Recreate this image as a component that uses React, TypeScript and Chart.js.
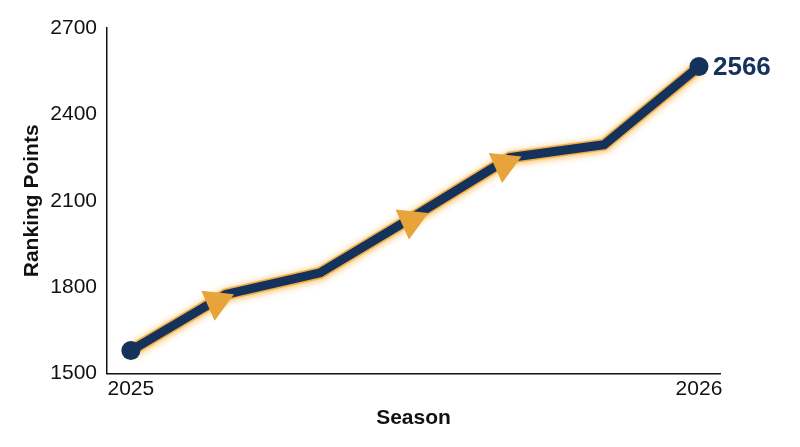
import { useEffect, useRef } from "react"
import { Chart, registerables, type ChartConfiguration, type Plugin } from "chart.js"

Chart.register(...registerables)

// season timeline (fraction of the year) and ranking points
const seasons = [2025, 2025.167, 2025.333, 2025.5, 2025.667, 2025.833, 2026]
const rankingPoints = [1580, 1775, 1850, 2048, 2250, 2295, 2566]

// arrow markers along the line
const arrowX = [2025.151, 2025.493, 2025.657]
const arrowY = [1749, 2031, 2227]

const xTicks = [2025, 2026]
const yTicks = [1500, 1800, 2100, 2400, 2700]

const NAVY = "#14325C"
const GOLD = "#E6A43A"
const FONT = "'Liberation Sans', Arial, sans-serif"

const glowPlugin: Plugin<"line"> = {
  id: "glow",
  beforeDatasetDraw(chart, args) {
    if (args.index !== 2) return
    const ctx = chart.ctx
    ctx.save()
    ctx.shadowColor = "rgba(245, 175, 60, 0.9)"
    ctx.shadowBlur = 7
    ctx.shadowOffsetY = 1
  },
  afterDatasetDraw(chart, args) {
    if (args.index !== 2) return
    chart.ctx.restore()
  },
}

const endLabelPlugin: Plugin<"line"> = {
  id: "endLabel",
  afterDatasetsDraw(chart) {
    const meta = chart.getDatasetMeta(1)
    const last = meta.data[meta.data.length - 1]
    if (!last) return
    const ctx = chart.ctx
    ctx.save()
    ctx.font = `bold 26px ${FONT}`
    ctx.fillStyle = NAVY
    ctx.textAlign = "left"
    ctx.textBaseline = "middle"
    ctx.fillText(String(rankingPoints[rankingPoints.length - 1]), last.x + 14, last.y + 1)
    ctx.restore()
  },
}

export default function App() {
  const canvasRef = useRef<HTMLCanvasElement>(null)

  useEffect(() => {
    if (!canvasRef.current) return
    const ctx = canvasRef.current.getContext("2d")
    if (!ctx) return

    const linePoints = seasons.map((x, i) => ({ x, y: rankingPoints[i] }))
    const radii = rankingPoints.map((_, i) => (i === 0 || i === rankingPoints.length - 1 ? 9.5 : 0))

    const config: ChartConfiguration<"line"> = {
      type: "line",
      data: {
        datasets: [
          {
            data: arrowX.map((x, i) => ({ x, y: arrowY[i] })),
            showLine: false,
            pointStyle: "triangle",
            pointRadius: 19,
            pointRotation: 186,
            pointBackgroundColor: GOLD,
            pointBorderWidth: 0,
          },
          {
            data: linePoints,
            borderColor: NAVY,
            borderWidth: 9,
            borderJoinStyle: "miter",
            tension: 0,
            pointRadius: radii,
            pointBackgroundColor: NAVY,
            pointBorderWidth: 0,
          },
          {
            data: linePoints,
            borderColor: "rgba(240, 172, 62, 0.95)",
            borderWidth: 12,
            borderJoinStyle: "miter",
            tension: 0,
            pointRadius: 0,
          },
        ],
      },
      options: {
        animation: false,
        responsive: true,
        maintainAspectRatio: false,
        layout: { padding: { left: 0, right: 80, top: 28, bottom: 16 } },
        plugins: {
          legend: { display: false },
          tooltip: { enabled: false },
        },
        scales: {
          x: {
            type: "linear",
            min: 2024.958,
            max: 2026.037,
            afterBuildTicks: (scale) => {
              scale.ticks = xTicks.map((value) => ({ value }))
            },
            grid: { display: false, drawTicks: false },
            border: { display: true, color: "#111", width: 1.5 },
            ticks: {
              padding: 3,
              color: "#111",
              font: { size: 21, family: FONT },
              callback: (v) => String(v),
            },
            title: {
              display: true,
              text: "Season",
              color: "#111",
              padding: { top: 1, bottom: 0 },
              font: { size: 21, weight: "bold", family: FONT },
            },
          },
          y: {
            min: 1500,
            max: 2700,
            afterBuildTicks: (scale) => {
              scale.ticks = yTicks.map((value) => ({ value }))
            },
            afterFit: (scale) => {
              scale.width = 107
            },
            grid: { display: false, drawTicks: false },
            border: { display: true, color: "#111", width: 1.5 },
            ticks: {
              padding: 10,
              color: "#111",
              font: { size: 21, family: FONT },
              callback: (v) => String(v),
            },
            title: {
              display: true,
              text: "Ranking Points",
              color: "#111",
              padding: { top: 20, bottom: 0 },
              font: { size: 21, weight: "bold", family: FONT },
            },
          },
        },
      },
      plugins: [glowPlugin, endLabelPlugin],
    }

    const chart = new Chart(ctx, config)
    return () => chart.destroy()
  }, [])

  return (
    <div style={{ position: "fixed", left: 0, top: 0, width: 800, height: 447, background: "#fff" }}>
      <canvas ref={canvasRef} />
    </div>
  )
}
